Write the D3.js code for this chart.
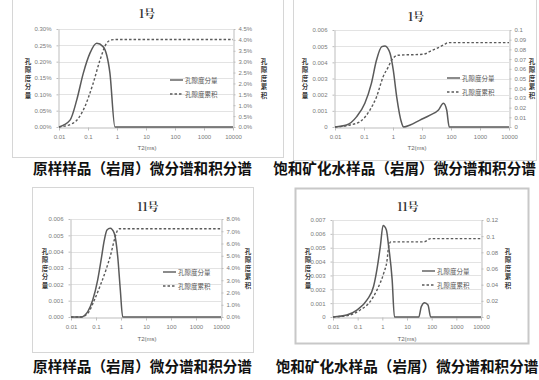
<!DOCTYPE html>
<html>
<head>
<meta charset="utf-8">
<script src="https://cdn.jsdelivr.net/npm/d3@7"></script>
<style>
  html, body { margin: 0; padding: 0; background: #fff; }
  svg { display: block; }
</style>
</head>
<body>
<svg id="chart" width="539" height="380"></svg>
<script>
// T2 relaxation-time axis (log scale, ms)
const xTickValues = [0.01, 0.1, 1, 10, 100, 1000, 10000];
const xTickLabels = ["0.01", "0.1", "1", "10", "100", "1000", "10000"];

const seriesNames = ["孔隙度分量", "孔隙度累积"];
const captions = ["原样样品（岩屑）微分谱和积分谱", "饱和矿化水样品（岩屑）微分谱和积分谱"];
const sampleTitles = ["1号", "1号", "11号", "11号"];

// Sample 1, original cuttings (values in %)
const s1oDiffT2 = [0.01, 0.024, 0.041, 0.069, 0.117, 0.2, 0.33, 0.57, 0.85, 1, 10, 100, 1000, 10000];
const s1oDiff   = [0, 0.021, 0.083, 0.165, 0.226, 0.256, 0.246, 0.165, 0, 0, 0, 0, 0, 0];
const s1oCumT2  = [0.01, 0.031, 0.069, 0.15, 0.26, 0.44, 0.65, 1, 10, 100, 1000, 10000];
const s1oCum    = [0, 0.18, 0.78, 2.0, 3.08, 3.85, 4.0, 4.02, 4.02, 4.02, 4.02, 4.02];
const s1oLeftTicks  = [0, 0.05, 0.10, 0.15, 0.20, 0.25, 0.30];
const s1oRightTicks = [0, 0.5, 1.0, 1.5, 2.0, 2.5, 3.0, 3.5, 4.0, 4.5];

// Sample 1, saturated with mineralized water
const s1sDiffT2 = [0.01, 0.025, 0.056, 0.107, 0.18, 0.27, 0.41, 0.53, 0.79, 1.02, 1.34, 2.0, 2.3, 3.9, 8.5, 19, 37, 55, 71, 87, 100, 1000, 10000];
const s1sDiff   = [0, 0.00012, 0.00064, 0.00147, 0.0027, 0.00414, 0.00497, 0.00501, 0.00456, 0.00353, 0.00187, 0.00023, 0, 0.00012, 0.00043, 0.00074, 0.00105, 0.00147, 0.00105, 0, 0, 0, 0];
const s1sCumT2  = [0.01, 0.033, 0.073, 0.16, 0.27, 0.46, 0.69, 0.9, 1.5, 11, 19, 32, 55, 81, 100, 1000, 10000];
const s1sCum    = [0, 0.0021, 0.0055, 0.0175, 0.031, 0.052, 0.062, 0.069, 0.074, 0.075, 0.078, 0.081, 0.0845, 0.087, 0.087, 0.087, 0.087];
const s1sLeftTicks  = [0, 0.001, 0.002, 0.003, 0.004, 0.005, 0.006];
const s1sRightTicks = [0, 0.01, 0.02, 0.03, 0.04, 0.05, 0.06, 0.07, 0.08, 0.09, 0.1];

// Sample 11, original cuttings
const s11oDiffT2 = [0.01, 0.025, 0.047, 0.074, 0.117, 0.16, 0.215, 0.275, 0.37, 0.54, 0.74, 0.94, 1.17, 10, 100, 1000, 10000];
const s11oDiff   = [0, 0, 0.00033, 0.00104, 0.00227, 0.00349, 0.00471, 0.00533, 0.00543, 0.00512, 0.00369, 0.00165, 0, 0, 0, 0, 0];
const s11oCumT2  = [0.01, 0.025, 0.047, 0.086, 0.16, 0.25, 0.4, 0.54, 0.74, 0.86, 10, 100, 1000, 10000];
const s11oCum    = [0, 0, 0.3, 1.39, 2.75, 3.84, 5.2, 6.29, 7.1, 7.2, 7.2, 7.2, 7.2, 7.2];
const s11oLeftTicks  = [0, 0.001, 0.002, 0.003, 0.004, 0.005, 0.006];
const s11oRightTicks = [0, 1, 2, 3, 4, 5, 6, 7, 8];

// Sample 11, saturated with mineralized water
const s11sDiffT2 = [0.01, 0.036, 0.093, 0.24, 0.44, 0.6, 0.83, 1.07, 1.45, 1.8, 2.5, 3.1, 30, 38, 52, 71, 91, 1000, 10000];
const s11sDiff   = [0, 0.00014, 0.0005, 0.00123, 0.0022, 0.0034, 0.0051, 0.0066, 0.0063, 0.0051, 0.0027, 0, 0, 0.00075, 0.00103, 0.00087, 0, 0, 0];
const s11sCumT2  = [0.01, 0.049, 0.126, 0.32, 0.6, 1.13, 1.55, 1.8, 2.2, 49, 91, 1000, 10000];
const s11sCum    = [0, 0.0025, 0.0087, 0.019, 0.033, 0.054, 0.07, 0.087, 0.093, 0.093, 0.097, 0.097, 0.097];
const s11sLeftTicks  = [0, 0.001, 0.002, 0.003, 0.004, 0.005, 0.006, 0.007];
const s11sRightTicks = [0, 0.02, 0.04, 0.06, 0.08, 0.1, 0.12];

const zip = (xs, ys) => xs.map((x, i) => [x, ys[i]]);
const pct2 = v => v.toFixed(2) + "%";
const pct1 = v => v.toFixed(1) + "%";
const gen  = v => String(+v.toFixed(4));
const fix3 = v => v.toFixed(3);

const panels = [
  { title: sampleTitles[0], frame: [12, -1, 283, 157], plot: [59, 29, 233, 127],
    titleXY: [147, 13], xTitleXY: [147, 148], legend: [170, 80],
    leftTitleX: 28, rightTitleX: 264, axisTitleY: 61,
    diff: zip(s1oDiffT2, s1oDiff), cum: zip(s1oCumT2, s1oCum),
    leftTicks: s1oLeftTicks, rightTicks: s1oRightTicks, leftFmt: pct2, rightFmt: pct1 },
  { title: sampleTitles[1], frame: [293, -1, 536, 160], plot: [335, 30, 509, 127],
    titleXY: [416, 16], xTitleXY: [417, 148], legend: [447, 78],
    leftTitleX: 305, rightTitleX: 532, axisTitleY: 61,
    diff: zip(s1sDiffT2, s1sDiff), cum: zip(s1sCumT2, s1sCum),
    leftTicks: s1sLeftTicks, rightTicks: s1sRightTicks, leftFmt: gen, rightFmt: gen },
  { title: sampleTitles[2], frame: [32, 187, 253, 352], plot: [71, 219, 221, 317],
    titleXY: [148, 206], xTitleXY: [147, 339], legend: [163, 272],
    leftTitleX: 45, rightTitleX: 248, axisTitleY: 251,
    diff: zip(s11oDiffT2, s11oDiff), cum: zip(s11oCumT2, s11oCum),
    leftTicks: s11oLeftTicks, rightTicks: s11oRightTicks, leftFmt: fix3, rightFmt: pct1 },
  { title: sampleTitles[3], frame: [295, 188, 528, 343], plot: [333, 220, 481, 317],
    titleXY: [408, 206], xTitleXY: [407, 339], legend: [422, 271],
    leftTitleX: 308, rightTitleX: 508, axisTitleY: 251,
    diff: zip(s11sDiffT2, s11sDiff), cum: zip(s11sCumT2, s11sCum),
    leftTicks: s11sLeftTicks, rightTicks: s11sRightTicks, leftFmt: gen, rightFmt: gen, heavyFrame: true }
];

const svg = d3.select("#chart");
const lineColor = "#5a5a5a";
const tickColor = "#7a7a7a";
const cjk = "'Noto Sans CJK SC', 'Noto Sans', sans-serif";

panels.forEach(p => {
  const g = svg.append("g");
  const [fx0, fy0, fx1, fy1] = p.frame;
  g.append("rect")
    .attr("x", fx0 + 0.5).attr("y", fy0 + 0.5)
    .attr("width", fx1 - fx0).attr("height", fy1 - fy0)
    .attr("fill", "#fff")
    .attr("stroke", p.heavyFrame ? "#c8c8c8" : "#d6d6d6")
    .attr("stroke-width", p.heavyFrame ? 2 : 1);

  const [l, t, r, b] = p.plot;
  const x = d3.scaleLog().domain([0.01, 10000]).range([l, r]);
  const yL = d3.scaleLinear().domain([0, d3.max(p.leftTicks)]).range([b, t]);
  const yR = d3.scaleLinear().domain([0, d3.max(p.rightTicks)]).range([b, t]);

  // horizontal gridlines on the primary axis
  g.append("g").selectAll("line").data(p.leftTicks.slice(1)).join("line")
    .attr("x1", l).attr("x2", r)
    .attr("y1", d => Math.round(yL(d)) + 0.5).attr("y2", d => Math.round(yL(d)) + 0.5)
    .attr("stroke", "#dcdcdc").attr("stroke-width", 0.8);

  // axes
  const axisStyle = sel => {
    sel.select(".domain").attr("stroke", "#bdbdbd");
    sel.selectAll(".tick line").attr("stroke", "#bdbdbd");
    sel.selectAll("text").attr("fill", tickColor).attr("font-size", "6px")
      .attr("font-family", "'Liberation Sans', Arial, sans-serif");
  };
  g.append("g").attr("transform", `translate(0,${b + 0.5})`)
    .call(d3.axisBottom(x).tickValues(xTickValues)
      .tickFormat((d, i) => xTickLabels[i]).tickSize(3).tickSizeOuter(0).tickPadding(4))
    .call(axisStyle);
  g.append("g").attr("transform", `translate(${l - 0.5},0)`)
    .call(d3.axisLeft(yL).tickValues(p.leftTicks).tickFormat(p.leftFmt)
      .tickSize(2).tickSizeOuter(0).tickPadding(5))
    .call(axisStyle);
  g.append("g").attr("transform", `translate(${r + 0.5},0)`)
    .call(d3.axisRight(yR).tickValues(p.rightTicks).tickFormat(p.rightFmt)
      .tickSize(2).tickSizeOuter(0).tickPadding(3))
    .call(axisStyle);

  // series
  const diffLine = d3.line().x(d => x(d[0])).y(d => yL(d[1])).curve(d3.curveMonotoneX);
  const cumLine = d3.line().x(d => x(d[0])).y(d => yR(d[1])).curve(d3.curveMonotoneX);
  g.append("path").datum(p.cum).attr("d", cumLine)
    .attr("fill", "none").attr("stroke", lineColor).attr("stroke-width", 1.4)
    .attr("stroke-dasharray", "2.5,2");
  g.append("path").datum(p.diff).attr("d", diffLine)
    .attr("fill", "none").attr("stroke", lineColor).attr("stroke-width", 1.5);

  // title
  g.append("text").attr("x", p.titleXY[0]).attr("y", p.titleXY[1])
    .attr("text-anchor", "middle").attr("dominant-baseline", "central")
    .attr("font-family", "'Noto Serif CJK SC', 'DejaVu Serif', serif")
    .attr("font-weight", "bold").attr("font-size", "11px").attr("fill", "#333")
    .text(p.title);

  // x-axis title
  g.append("text").attr("x", p.xTitleXY[0]).attr("y", p.xTitleXY[1])
    .attr("text-anchor", "middle").attr("dominant-baseline", "central")
    .attr("font-family", "'Liberation Sans', Arial, sans-serif")
    .attr("font-size", "6px").attr("fill", "#666").text("T2(ms)");

  // vertical axis titles, one character per line
  const vTitle = (str, cx) => {
    const txt = g.append("text")
      .attr("font-family", cjk).attr("font-weight", "bold")
      .attr("font-size", "6.5px").attr("fill", "#3a3a3a")
      .attr("text-anchor", "middle");
    txt.selectAll("tspan").data(Array.from(str)).join("tspan")
      .attr("x", cx).attr("y", (d, i) => p.axisTitleY + 2.5 + i * 8.5)
      .text(d => d);
  };
  vTitle(seriesNames[0], p.leftTitleX);
  vTitle(seriesNames[1], p.rightTitleX);

  // legend
  const [lx, ly] = p.legend;
  seriesNames.forEach((name, i) => {
    const yy = ly + i * 14;
    g.append("line").attr("x1", lx).attr("x2", lx + 13).attr("y1", yy).attr("y2", yy)
      .attr("stroke", lineColor).attr("stroke-width", 1.4)
      .attr("stroke-dasharray", i === 1 ? "2.5,2" : null);
    g.append("text").attr("x", lx + 15).attr("y", yy)
      .attr("dominant-baseline", "central")
      .attr("font-family", cjk).attr("font-size", "6.5px").attr("fill", "#555").text(name);
  });
});

// captions below each chart
const captionSpots = [[142.5, 167, 0], [404.5, 167, 1], [142.5, 365, 0], [407, 365, 1]];
svg.append("g").selectAll("text").data(captionSpots).join("text")
  .attr("x", d => d[0]).attr("y", d => d[1])
  .attr("text-anchor", "middle").attr("dominant-baseline", "central")
  .attr("font-family", cjk).attr("font-weight", "bold")
  .attr("font-size", "14.6px").attr("fill", "#111")
  .text(d => captions[d[2]]);
</script>
</body>
</html>
